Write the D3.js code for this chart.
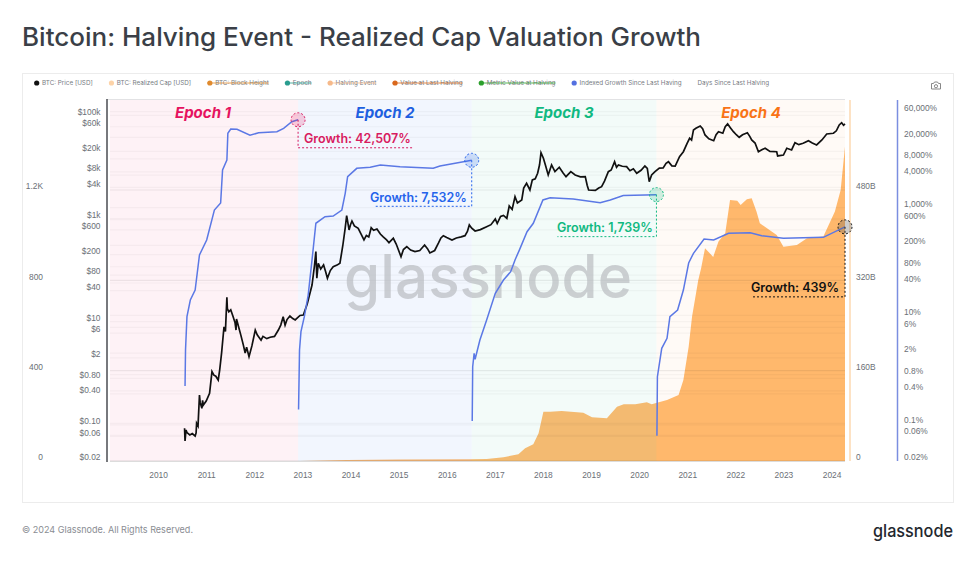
<!DOCTYPE html>
<html>
<head>
<meta charset="utf-8">
<script src="https://cdn.jsdelivr.net/npm/d3@7"></script>
<style>
body { margin: 0; background: #fff; }
svg { display: block; font-family: Inter, "Noto Sans", sans-serif; }
.tick text { fill: #6b6f76; font-size: 8.4px; }
</style>
</head>
<body>
<svg width="974" height="561"></svg>
<script>
// years are decimal years
var priceYears = [
    2010.55,2010.56,2010.58,2010.60,2010.66,2010.71,2010.77,2010.79,2010.80,2010.83,2010.86,2010.875,2010.91,2010.925,2010.94,2011.0,2011.07,2011.12,2011.16,2011.2,2011.25,2011.28,2011.32,2011.37,2011.40,2011.43,2011.44,2011.47,2011.51,2011.56,2011.60,2011.62,2011.63,2011.67,2011.72,2011.77,2011.81,2011.84,2011.89,2011.95,
    2012.02,2012.06,2012.14,2012.18,2012.26,2012.33,2012.42,2012.50,2012.55,2012.60,2012.64,2012.68,2012.74,2012.80,2012.85,2012.95,
    2013.02,2013.10,2013.20,2013.25,2013.28,2013.30,2013.33,2013.38,2013.44,2013.48,2013.52,2013.58,2013.64,2013.72,2013.78,2013.84,2013.89,2013.92,2013.95,2013.97,2014.0,
    2014.03,2014.08,2014.16,2014.22,2014.28,2014.33,2014.38,2014.43,2014.48,2014.55,2014.62,2014.68,2014.75,2014.80,2014.89,2014.95,2015.05,2015.10,2015.17,2015.25,2015.34,2015.44,2015.54,2015.60,2015.65,2015.75,2015.83,2015.88,2015.93,2016.0,2016.11,2016.2,2016.3,2016.38,2016.43,2016.47,2016.52,2016.59,2016.7,2016.83,2016.92,
    2017.01,2017.05,2017.12,2017.18,2017.25,2017.30,2017.36,2017.42,2017.47,2017.56,2017.60,2017.66,2017.73,2017.78,2017.84,2017.89,2017.93,2017.96,2018.01,2018.05,2018.11,2018.18,2018.25,2018.34,2018.42,2018.48,2018.58,2018.67,2018.78,2018.88,2018.92,2018.95,
    2019.09,2019.16,2019.22,2019.28,2019.36,2019.42,2019.49,2019.53,2019.57,2019.65,2019.74,2019.81,2019.88,2019.95,2020.04,2020.12,2020.17,2020.21,2020.26,2020.33,2020.42,2020.50,2020.56,2020.61,2020.68,2020.75,2020.84,2020.92,
    2021.0,2021.05,2021.09,2021.13,2021.18,2021.27,2021.32,2021.37,2021.45,2021.55,2021.60,2021.65,2021.74,2021.79,2021.84,2021.9,2021.96,2022.02,2022.08,2022.15,2022.25,2022.3,2022.34,2022.41,2022.48,2022.55,2022.62,2022.72,2022.86,2022.88,2023.0,2023.07,2023.17,2023.24,2023.32,2023.41,2023.52,2023.6,2023.69,2023.8,2023.9,2024.04,2024.1,2024.16,2024.21,2024.25,2024.28
];
var priceValues = [
    0.086,0.049,0.08,0.071,0.064,0.068,0.061,0.07,0.108,0.095,0.38,0.27,0.21,0.3,0.243,0.29,0.41,1.08,0.92,0.88,0.74,1.15,2.48,8,6.5,29.7,18,15.6,17,12.5,9.5,6.9,11.3,8.2,5.5,3.6,2.48,3.2,2.1,3.4,
    6.9,5.6,4.4,5.2,4.7,5.0,5.2,6.9,8.6,12.5,8.6,11,12.9,11.5,10.8,13.2,
    13.5,22,51.5,120,228,69.5,136,105,126,95,69.5,98,116,125,136,300,656,1135,780,600,760,
    895,720,647,500,384,470,440,664,590,627,500,440,384,340,414,320,182,250,284,245,228,240,307,260,215,240,336,420,465,430,384,420,440,465,560,750,650,573,610,695,760,
    980,800,1100,1150,1010,1750,1500,2650,2000,2286,3900,4820,3570,5600,5900,7530,11000,18900,14700,11000,6980,10900,8090,9840,7600,6470,8090,6980,6400,6470,4400,3570,
    3500,3900,4140,5300,8090,8700,12600,9800,10900,10300,10100,8450,9200,7530,8600,10400,9400,5180,7000,8090,9500,9530,11700,12600,10500,10400,15800,19700,
    29000,35900,33000,52000,56000,62100,55000,41600,35000,32200,42000,48200,44900,60000,67900,57000,48200,42000,37500,42000,46000,39000,33300,29000,19700,21500,23000,20000,19700,16300,17000,23000,21300,29500,27000,28700,32200,29000,26600,33300,43500,44900,50000,65000,72000,64000,67900
];

// realized cap, billions of USD
var capYears = [2009.0,2012.95,2013.92,2015.03,2016.49,2016.83,2017.18,2017.49,2017.63,2017.80,2017.91,2018.01,2018.15,2018.39,2018.84,2019.02,2019.33,2019.54,2019.68,2019.92,2020.16,2020.26,2020.58,2020.82,2020.92,2021.03,2021.10,2021.23,2021.29,2021.37,2021.54,2021.65,2021.79,2021.89,2022.04,2022.11,2022.24,2022.34,2022.44,2022.51,2022.86,2023.00,2023.28,2023.49,2023.83,2024.07,2024.19,2024.28];
var capValues = [0,0.2,1.8,2.6,3.0,3.5,6.6,11.9,22.5,29.6,49,87.4,87.4,88.6,85.6,77.4,75.7,96.2,100.5,100.5,104,100.5,108,117,143.5,202.5,255.7,320.7,342,377,361.5,388.6,403.5,462.5,461,453.6,463.7,465.5,441.8,421,400.5,379.7,382.8,394.6,397.5,441.8,480,557];

// indexed growth since last halving, percent
var growth1Years = [2010.56,2010.57,2010.60,2010.67,2010.77,2010.86,2011.01,2011.17,2011.30,2011.34,2011.43,2011.45,2011.51,2011.64,2011.91,2012.09,2012.47,2012.61,2012.78,2012.91];
var growth1Values = [0.49,2.29,9.5,19.3,29.6,132,251,902,1216,4977,7620,23800,28600,28250,21900,24400,25500,29500,39100,42507];
var growth2Years = [2012.92,2012.94,2012.97,2013.04,2013.12,2013.20,2013.28,2013.47,2013.64,2013.82,2013.89,2013.94,2014.13,2014.41,2014.62,2015.03,2015.72,2015.86,2016.52];
var growth2Values = [0.18,2.29,5.0,9.5,23.9,107,512,678,698,902,1841,3741,5346,5585,6166,5728,5346,5902,7532];
var growth3Years = [2016.53,2016.54,2016.57,2016.59,2016.69,2016.83,2017.01,2017.18,2017.33,2017.42,2017.51,2017.67,2017.80,2018.00,2018.15,2018.63,2019.19,2019.40,2019.67,2020.36];
var growth3Values = [0.11,1.12,1.99,1.54,3.51,8.24,25.8,45.4,64.7,107,163,357,512,1384,1524,1442,1233,1384,1680,1739];
var growth4Years = [2020.37,2020.38,2020.47,2020.58,2020.64,2020.80,2020.92,2021.03,2021.13,2021.35,2021.55,2021.86,2022.31,2022.55,2023.00,2023.83,2024.28];
var growth4Values = [0.059,0.73,2.46,3.77,9.5,12.6,29.6,93.8,142,261,251,333,342,301,270,281,439];

var epochLabels = ["Epoch 1", "Epoch 2", "Epoch 3", "Epoch 4"];
var epochEdges = [2009.0, 2012.91, 2016.52, 2020.36, 2024.28];
var growthLabels = ["Growth: 42,507%", "Growth: 7,532%", "Growth: 1,739%", "Growth: 439%"];

var yearTicks = d3.range(2010, 2025);
var priceTicks = [100000,60000,20000,8000,4000,1000,600,200,80,40,10,6,2,0.8,0.4,0.1,0.06,0.02];
var priceTickLabels = ["$100k","$60k","$20k","$8k","$4k","$1k","$600","$200","$80","$40","$10","$6","$2","$0.80","$0.40","$0.10","$0.06","$0.02"];
var growthTicks = [60000,20000,8000,4000,1000,600,200,80,40,10,6,2,0.8,0.4,0.1,0.06,0.02];
var growthTickLabels = ["60,000%","20,000%","8,000%","4,000%","1,000%","600%","200%","80%","40%","10%","6%","2%","0.8%","0.4%","0.1%","0.06%","0.02%"];
var capTicks = [0,160,320,480];
var capTickLabels = ["0","160B","320B","480B"];
var heightTicks = [0,400,800,1200];
var heightTickLabels = ["0","400","800","1.2K"];

var legendNames = ["BTC: Price [USD]","BTC: Realized Cap [USD]","BTC: Block Height","Epoch","Halving Event","Value at Last Halving","Metric Value at Halving","Indexed Growth Since Last Having","Days Since Last Halving"];
var legendColors = ["#111","#fdd3a8","#e08a2e","#2a9d8f","#f6b98a","#d9681d","#2ca02c","#5470e0",null];
var legendStruck = [false,false,true,true,true,true,true,false,false];

var epochColors = ["#e6125f","#1d5fe0","#10b981","#f97316"];
var bandColors = ["rgb(233,30,99)","rgb(37,99,235)","rgb(16,185,129)","rgb(249,115,22)"];
var bandAlpha = [0.06,0.06,0.05,0.04];

var svg = d3.select("svg");
var plotTop = 100, plotBottom = 461;

var xScale = d3.scaleLinear().domain([2009, 2024.28]).range([110, 845]);
var priceScale = d3.scaleLog().domain([0.02, 100000]).range([plotBottom, 115.3]);
var growthScale = d3.scaleLog().domain([0.02, 60000]).range([plotBottom, 111.7]);
var capScale = d3.scaleLinear().domain([0, 480]).range([plotBottom, 190]);
var heightScale = d3.scaleLinear().domain([0, 1200]).range([plotBottom, 190]);

// card + title
svg.append("rect").attr("x", 22.5).attr("y", 73.5).attr("width", 931).attr("height", 429)
    .attr("fill", "#fff").attr("stroke", "#ececec");
svg.append("text").attr("x", 22).attr("y", 46).attr("fill", "#3a3f47")
    .attr("font-size", 25).attr("font-weight", 500)
    .attr("textLength", 679).attr("lengthAdjust", "spacingAndGlyphs")
    .text("Bitcoin: Halving Event - Realized Cap Valuation Growth");
svg.append("text").attr("x", 22).attr("y", 533).attr("fill", "#8a8d93").attr("font-size", 9.5)
    .attr("textLength", 171).attr("lengthAdjust", "spacingAndGlyphs")
    .text("© 2024 Glassnode. All Rights Reserved.");
svg.append("text").attr("x", 873).attr("y", 537).attr("fill", "#23272e")
    .attr("font-size", 17.5).attr("font-weight", 500)
    .attr("textLength", 80).attr("lengthAdjust", "spacingAndGlyphs").text("glassnode");

// legend
var legendX = 34;
legendNames.forEach(function(name, i) {
    var g = svg.append("g");
    if (legendColors[i]) {
        g.append("circle").attr("cx", legendX + 2.7).attr("cy", 83).attr("r", 2.6).attr("fill", legendColors[i]);
        legendX += 8;
    }
    var label = g.append("text").attr("x", legendX).attr("y", 85.3)
        .attr("fill", "#777b82").attr("font-size", 6.3).text(name);
    var w = label.node().getComputedTextLength();
    if (legendStruck[i]) {
        g.append("line").attr("x1", legendX - 8).attr("x2", legendX + w).attr("y1", 83).attr("y2", 83)
            .attr("stroke", legendColors[i]).attr("stroke-width", 0.8);
    }
    legendX += w + 16;
});

// camera icon
var cam = svg.append("g").attr("transform", "translate(936,86)").attr("fill", "none").attr("stroke", "#888").attr("stroke-width", 1);
cam.append("path").attr("d", "M-4.5,-2.5 h2 l1,-1.5 h3 l1,1.5 h2 v5.5 h-9 z");
cam.append("circle").attr("r", 1.6).attr("cy", 0.2);

// realized cap area sits under the bands
var capArea = d3.area()
    .x(function(d) { return xScale(d[0]); })
    .y0(plotBottom)
    .y1(function(d) { return capScale(d[1]); });
svg.append("path").datum(d3.zip(capYears, capValues))
    .attr("d", capArea).attr("fill", "#ffbb70");

// gridlines from all the axes
function gridlines(ticks, scale, alpha) {
    svg.append("g").selectAll("line").data(ticks).enter().append("line")
        .attr("x1", 110).attr("x2", 845)
        .attr("y1", function(d) { return scale(d); })
        .attr("y2", function(d) { return scale(d); })
        .attr("stroke", "#000").attr("stroke-opacity", alpha).attr("stroke-width", 1.2);
}
gridlines(priceTicks, priceScale, 0.03);
gridlines(growthTicks, growthScale, 0.03);
gridlines(capTicks, capScale, 0.07);

// epoch bands
svg.append("g").selectAll("rect").data(epochLabels).enter().append("rect")
    .attr("x", function(d, i) { return xScale(epochEdges[i]); })
    .attr("width", function(d, i) { return xScale(epochEdges[i + 1]) - xScale(epochEdges[i]); })
    .attr("y", plotTop).attr("height", plotBottom - plotTop)
    .attr("fill", function(d, i) { return bandColors[i]; })
    .attr("fill-opacity", function(d, i) { return bandAlpha[i]; });

// watermark
svg.append("text").attr("x", 344).attr("y", 298)
    .attr("font-size", 60).attr("font-weight", 500).attr("fill", "#b9bcc0").attr("fill-opacity", 0.7)
    .attr("textLength", 288).attr("lengthAdjust", "spacingAndGlyphs").text("glassnode");

svg.append("line").attr("x1", 107).attr("x2", 845).attr("y1", 99.5).attr("y2", 99.5).attr("stroke", "#e2e2e4");
svg.append("line").attr("x1", 110).attr("x2", 845).attr("y1", 461.5).attr("y2", 461.5).attr("stroke", "#dcdcdc");

// series
var priceLine = d3.line()
    .x(function(d) { return xScale(d[0]); })
    .y(function(d) { return priceScale(d[1]); });
var growthLine = d3.line()
    .x(function(d) { return xScale(d[0]); })
    .y(function(d) { return growthScale(d[1]); });

var growthSeries = [
    d3.zip(growth1Years, growth1Values),
    d3.zip(growth2Years, growth2Values),
    d3.zip(growth3Years, growth3Values),
    d3.zip(growth4Years, growth4Values)
];
svg.append("path").datum(d3.zip(priceYears, priceValues))
    .attr("d", priceLine).attr("fill", "none").attr("stroke", "#111").attr("stroke-width", 1.7);
growthSeries.forEach(function(s) {
    svg.append("path").datum(s).attr("d", growthLine)
        .attr("fill", "none").attr("stroke", "#5b78e5").attr("stroke-width", 1.5);
});

// axes
function yAxis(axis, x, labelX, anchor) {
    var g = svg.append("g").attr("transform", "translate(" + x + ",0)").call(axis);
    g.select(".domain").remove();
    g.selectAll("line").remove();
    g.selectAll("text").attr("y", -4).attr("x", labelX).attr("text-anchor", anchor);
    return g;
}
function labelFrom(labels) { return function(d, i) { return labels[i]; }; }

yAxis(d3.axisLeft(heightScale).tickValues(heightTicks).tickFormat(labelFrom(heightTickLabels)), 43, 0, "end");
yAxis(d3.axisLeft(priceScale).tickValues(priceTicks).tickFormat(labelFrom(priceTickLabels)), 100.5, 0, "end");
yAxis(d3.axisRight(capScale).tickValues(capTicks).tickFormat(labelFrom(capTickLabels)), 856, 0, "start");
yAxis(d3.axisRight(growthScale).tickValues(growthTicks).tickFormat(labelFrom(growthTickLabels)), 904, 0, "start");

var xg = svg.append("g").attr("transform", "translate(0," + plotBottom + ")")
    .call(d3.axisBottom(xScale).tickValues(yearTicks).tickFormat(d3.format("d")).tickSize(0).tickPadding(11));
xg.select(".domain").remove();

svg.append("line").attr("x1", 107).attr("x2", 107).attr("y1", 99).attr("y2", 462).attr("stroke", "#4a4d52").attr("stroke-width", 1.5);
svg.append("line").attr("x1", 850).attr("x2", 850).attr("y1", 100).attr("y2", 461).attr("stroke", "#fcd9b0").attr("stroke-width", 1.5);
svg.append("line").attr("x1", 897.5).attr("x2", 897.5).attr("y1", 100).attr("y2", 461).attr("stroke", "#7b8ee0").attr("stroke-width", 1.5);

// epoch titles
svg.append("g").selectAll("text").data(epochLabels).enter().append("text")
    .attr("x", function(d, i) { return [203, 385, 564, 751][i]; })
    .attr("y", 117.5)
    .attr("text-anchor", "middle")
    .attr("font-size", 15).attr("font-weight", 700).attr("font-style", "italic")
    .attr("fill", function(d, i) { return epochColors[i]; })
    .text(function(d) { return d; });

// growth annotations: marker at the end of each line, dotted elbow, label
var noteColors = ["#d81b60", "#2563eb", "#10b981", "#111"];
var noteFills = ["rgba(233,30,99,0.2)", "rgba(37,99,235,0.2)", "rgba(16,185,129,0.2)", "rgba(90,90,90,0.3)"];
var noteDrop = [28, 46, 42, 70];
var noteRun = [115, -98, -99, -92];
var noteText = [304, 370, 557, 751];

growthSeries.forEach(function(s, i) {
    var last = s[s.length - 1];
    var cx = xScale(last[0]), cy = growthScale(last[1]);
    var elbowY = cy + noteDrop[i];
    svg.append("path")
        .attr("d", "M" + cx + "," + cy + "V" + elbowY + "H" + (cx + noteRun[i]))
        .attr("fill", "none").attr("stroke", noteColors[i]).attr("stroke-width", 1).attr("stroke-dasharray", "2,2");
    svg.append("circle").attr("cx", cx).attr("cy", cy).attr("r", 7)
        .attr("fill", noteFills[i]).attr("stroke", noteColors[i]).attr("stroke-width", 1).attr("stroke-dasharray", "2,2");
    svg.append("text").attr("x", noteText[i]).attr("y", elbowY - 4.5)
        .attr("font-size", 12.5).attr("font-weight", 600).attr("fill", noteColors[i]).text(growthLabels[i]);
});
</script>
</body>
</html>
